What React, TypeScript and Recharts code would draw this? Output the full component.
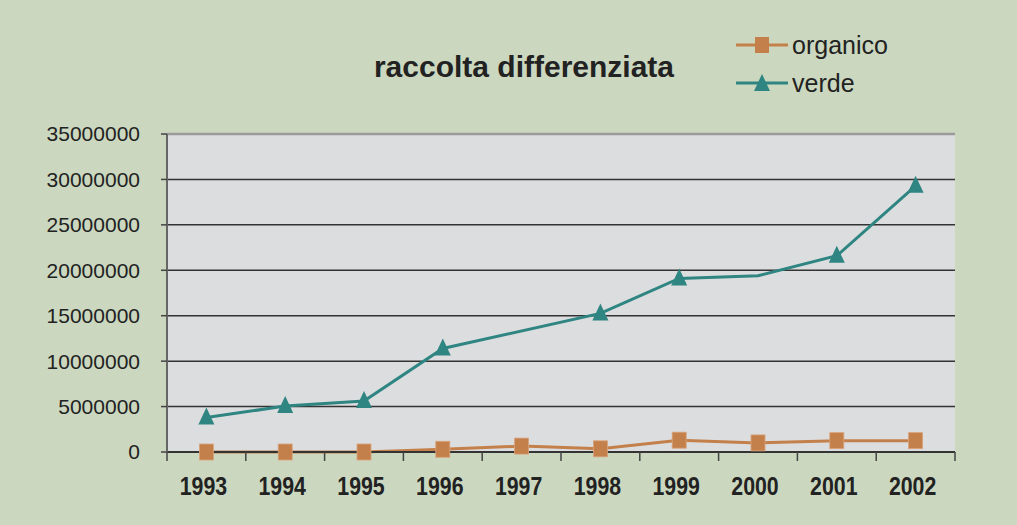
import React from 'react';
import { LineChart, Line, XAxis, YAxis, CartesianGrid, Legend } from 'recharts';

const years = ['1993', '1994', '1995', '1996', '1997', '1998', '1999', '2000', '2001', '2002'];
const organico = [0, 0, 0, 300000, 650000, 350000, 1300000, 1000000, 1250000, 1250000];
const verde: (number | null)[] = [3800000, 5050000, 5600000, 11400000, null, 15250000, 19100000, 19400000, 21600000, 29300000];
const verdeMarked = [true, true, true, true, false, true, true, false, true, true];
const yTicks = [0, 5000000, 10000000, 15000000, 20000000, 25000000, 30000000, 35000000];

const data = years.map((y, i) => ({ year: y, organico: organico[i], verde: verde[i] }));

const ORANGE = '#c4804a';
const TEAL = '#2e8582';
const BG = '#cbd8bf';
const PLOT = '#dcdddf';
const STEP = 78.8;

const Square = (props: any) => {
  const { cx, cy, key } = props;
  if (cx == null || cy == null || props.value == null) return <g key={key} />;
  return <rect key={key} x={cx - 7} y={cy - 8} width={14} height={16} fill={ORANGE} stroke="#d9a27a" strokeWidth={0.8} />;
};

const Triangle = (props: any) => {
  const { cx, cy, key, index } = props;
  if (cx == null || cy == null || props.value == null || !verdeMarked[index]) return <g key={key} />;
  return <path key={key} d={`M${cx},${cy - 10} L${cx + 8},${cy + 7} L${cx - 8},${cy + 7} Z`} fill={TEAL} />;
};

const YearTick = (props: any) => {
  const { x, y, payload, index } = props;
  const axisY = y - 25;
  const isLast = index === years.length - 1;
  return (
    <g>
      <line x1={x - STEP / 2} x2={x - STEP / 2} y1={axisY} y2={axisY + 9} stroke="#444" strokeWidth={1.5} />
      {isLast && <line x1={x + STEP / 2} x2={x + STEP / 2} y1={axisY} y2={axisY + 9} stroke="#444" strokeWidth={1.5} />}
      <text
        transform={`translate(${x - 3},${y}) scale(0.82,1)`}
        textAnchor="middle"
        dy="0.71em"
        fill="#222"
        fontSize={26}
        fontWeight="bold"
        fontFamily="Liberation Sans, Arial, sans-serif"
      >
        {payload.value}
      </text>
    </g>
  );
};

const GridLine = (props: any) => {
  const { x1, x2, y1, y2 } = props;
  const isTop = y1 < 140;
  return <line x1={x1} x2={x2} y1={y1} y2={y2} stroke={isTop ? '#9a9a9a' : '#333'} strokeWidth={isTop ? 2.5 : 1.5} />;
};

const LegendContent = (props: any) => {
  const { payload } = props;
  return (
    <div style={{ fontFamily: 'Liberation Sans, Arial, sans-serif', fontSize: 25, color: '#222' }}>
      {(payload || []).map((p: any) => (
        <div key={p.value} style={{ display: 'flex', alignItems: 'center', height: 38 }}>
          <svg width={54} height={24} style={{ marginRight: 2 }}>
            <line x1={0} y1={12} x2={52} y2={12} stroke={p.color} strokeWidth={3} />
            {p.value === 'organico' ? (
              <rect x={19} y={4} width={14} height={16} fill={ORANGE} />
            ) : (
              <path d="M26,3 L34,20 L18,20 Z" fill={TEAL} />
            )}
          </svg>
          <span>{p.value}</span>
        </div>
      ))}
    </div>
  );
};

export default function App() {
  return (
    <div style={{ position: 'absolute', left: 0, top: 0, width: 1017, height: 525, background: BG }}>
      <div
        style={{
          position: 'absolute',
          left: 0,
          width: 1048,
          top: 50,
          textAlign: 'center',
          fontFamily: 'Liberation Sans, Arial, sans-serif',
          fontWeight: 'bold',
          fontSize: 30,
          color: '#222',
        }}
      >
        raccolta differenziata
      </div>
      <LineChart width={1017} height={525} data={data} margin={{ top: 134, right: 62, bottom: 23, left: 67 }}>
        <CartesianGrid horizontal={<GridLine />} vertical={false} fill={PLOT} yAxisId="y" xAxisId="a" />
        <XAxis
          xAxisId="a"
          dataKey="year"
          height={50}
          padding={{ left: 39.4, right: 39.4 }}
          tickLine={false}
          tickSize={0}
          tickMargin={25}
          interval={0}
          axisLine={{ stroke: '#333', strokeWidth: 2 }}
          tick={<YearTick />}
        />
        <YAxis
          yAxisId="y"
          domain={[0, 35000000]}
          ticks={yTicks}
          width={100}
          tickSize={6}
          tickMargin={21}
          interval={0}
          axisLine={{ stroke: '#666', strokeWidth: 2 }}
          tickLine={{ stroke: '#444', strokeWidth: 1.5 }}
          tick={{ fill: '#222', fontSize: 21, fontFamily: 'Liberation Sans, Arial' }}
        />
        <YAxis
          yAxisId="r"
          orientation="right"
          domain={[0, 35000000]}
          width={0}
          tick={false}
          tickLine={false}
          axisLine={{ stroke: '#9a9a9a', strokeWidth: 2.5 }}
        />
        <Legend
          layout="vertical"
          verticalAlign="middle"
          align="center"
          content={<LegendContent />}
          wrapperStyle={{ position: 'absolute', top: 26, left: 736, width: 200 }}
        />
        <Line
          xAxisId="a"
          yAxisId="y"
          type="linear"
          dataKey="organico"
          name="organico"
          stroke={ORANGE}
          strokeWidth={3}
          dot={<Square />}
          activeDot={false}
          isAnimationActive={false}
        />
        <Line
          xAxisId="a"
          yAxisId="y"
          type="linear"
          dataKey="verde"
          name="verde"
          stroke={TEAL}
          strokeWidth={3}
          connectNulls
          dot={<Triangle />}
          activeDot={false}
          isAnimationActive={false}
        />
      </LineChart>
    </div>
  );
}
